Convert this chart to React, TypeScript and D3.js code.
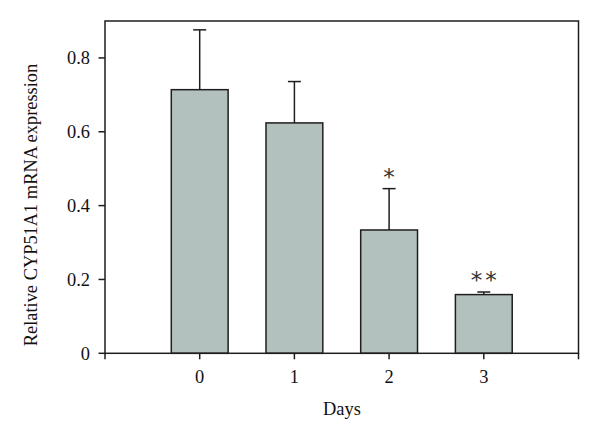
import React from "react";
import * as d3 from "d3";

const days = [0, 1, 2, 3];
const means = [0.714, 0.624, 0.334, 0.159];
const errors = [0.162, 0.112, 0.112, 0.007];
const marks = ["", "", "*", "**"];
const yTicks = [0, 0.2, 0.4, 0.6, 0.8];
const xTicks = [-1, 0, 1, 2, 3, 4];
const xLabelTicks = [0, 1, 2, 3];

const W = 600;
const H = 440;
const left = 105;
const right = 578.5;
const top = 21;
const bottom = 353.3;
const font = "'Liberation Serif', 'Times New Roman', serif";
const fs = 18.4;

export default function App() {
  const x = d3.scaleLinear().domain([-1, 4]).range([left, right]);
  const y = d3.scaleLinear().domain([0, 0.9]).range([bottom, top]);
  const bw = x(0.3) - x(-0.3);
  const stroke = "#1e1e1e";
  return (
    <svg width={W} height={H} style={{ position: "absolute", left: 0, top: 0 }}>
      <rect x={0} y={0} width={W} height={H} fill="#fff" />
      {days.map((d, i) => (
        <g key={d}>
          <line x1={x(d)} x2={x(d)} y1={y(means[i])} y2={y(means[i] + errors[i])} stroke={stroke} strokeWidth={1.5} />
          <line x1={x(d) - 6.5} x2={x(d) + 6.5} y1={y(means[i] + errors[i])} y2={y(means[i] + errors[i])} stroke={stroke} strokeWidth={1.5} />
          <rect x={x(d) - bw / 2} y={y(means[i])} width={bw} height={bottom - y(means[i])} fill="#b3c1be" stroke={stroke} strokeWidth={1.5} />
          {marks[i] && (
            <text x={x(d) + (marks[i].length > 1 ? 1.5 : 0)} y={y(means[i] + errors[i]) - 4} textAnchor="middle" fontFamily="'DejaVu Sans', sans-serif" fontSize={23} fill="#333" letterSpacing={marks[i].length > 1 ? 3 : 0}>
              {marks[i]}
            </text>
          )}
        </g>
      ))}
      <rect x={left} y={top} width={right - left} height={bottom - top} fill="none" stroke={stroke} strokeWidth={1.5} />
      {yTicks.map((t) => (
        <g key={t}>
          <line x1={left - 6.5} x2={left} y1={y(t)} y2={y(t)} stroke={stroke} strokeWidth={1.5} />
          <text x={left - 15} y={y(t) + 6.3} textAnchor="end" fontFamily={font} fontSize={fs} fill="#111">
            {t === 0 ? "0" : t.toFixed(1)}
          </text>
        </g>
      ))}
      {xTicks.map((t) => (
        <line key={t} x1={x(t)} x2={x(t)} y1={bottom} y2={bottom + 6} stroke={stroke} strokeWidth={1.5} />
      ))}
      {xLabelTicks.map((t) => (
        <text key={t} x={x(t)} y={383} textAnchor="middle" fontFamily={font} fontSize={fs} fill="#111">
          {t}
        </text>
      ))}
      <text x={342} y={415} textAnchor="middle" fontFamily={font} fontSize={fs} fill="#111">
        Days
      </text>
      <text transform={`translate(37, ${(63 + 347) / 2}) rotate(-90)`} textAnchor="middle" fontFamily={font} fontSize={fs} fill="#111">
        Relative CYP51A1 mRNA expression
      </text>
    </svg>
  );
}
